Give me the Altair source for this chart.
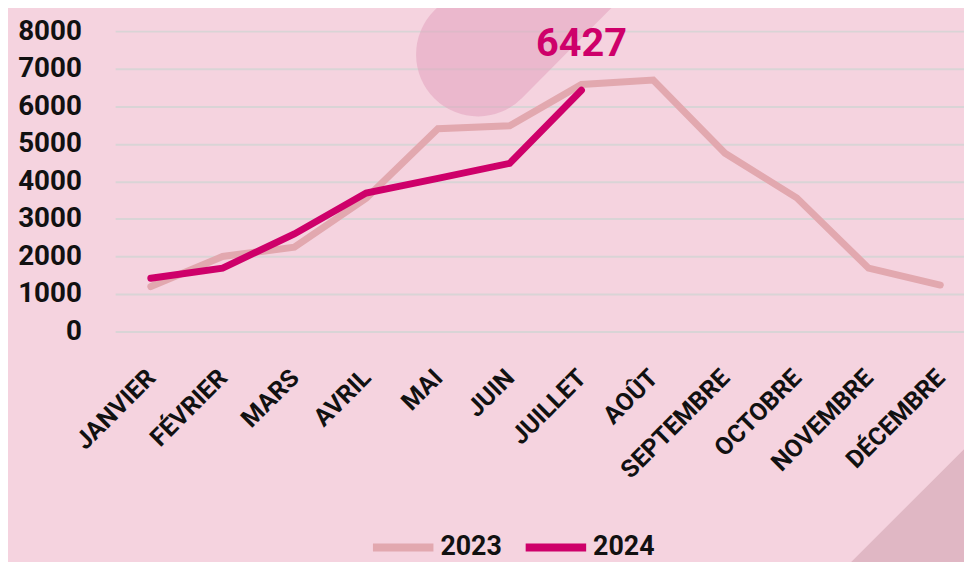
import altair as alt
import pandas as pd

months = ["JANVIER", "FÉVRIER", "MARS", "AVRIL", "MAI", "JUIN", "JUILLET",
          "AOÛT", "SEPTEMBRE", "OCTOBRE", "NOVEMBRE", "DÉCEMBRE"]
values_2023 = [1200, 2000, 2250, 3550, 5400, 5480, 6580, 6700, 4750, 3560, 1690, 1240]
values_2024 = [1420, 1690, 2600, 3690, 4080, 4480, 6427]
years = ["2023", "2024"]
y_ticks = [0, 1000, 2000, 3000, 4000, 5000, 6000, 7000, 8000]
highlight_label = "6427"

rows = []
for i, v in enumerate(values_2023):
    rows.append({"idx": i, "month": months[i], "year": "2023", "value": v})
for i, v in enumerate(values_2024):
    rows.append({"idx": i, "month": months[i], "year": "2024", "value": v})
df = pd.DataFrame(rows)

BG = "#F5D3DF"
C2023 = "#E2A8AF"
C2024 = "#CE006A"
FONT = "Roboto"

label_expr = "[" + ",".join("'" + m + "'" for m in months) + "][datum.value]"

x_enc = alt.X(
    "idx:Q",
    scale=alt.Scale(domain=[-0.4975, 11.33], nice=False, zero=False),
    axis=alt.Axis(
        values=list(range(12)), labelExpr=label_expr, labelAngle=-45,
        labelAlign="right", labelBaseline="middle", labelFont=FONT,
        labelFontSize=25, labelFontWeight="bold", labelColor="#111111",
        labelPadding=42, labelOverlap=False, labelFlush=False, labelBound=False,
        ticks=False, domain=False, grid=False, title=None,
    ),
)
y_enc = alt.Y(
    "value:Q",
    scale=alt.Scale(domain=[0, 8000], nice=False),
    axis=alt.Axis(
        values=y_ticks, format="d", labelFont=FONT, labelFontSize=28,
        labelFontWeight="bold", labelColor="#111111", labelPadding=34,
        labelOverlap=False, labelFlush=False, labelBound=False,
        ticks=False, domain=False,
        grid=True, gridColor="#D9D4D6", gridWidth=2, title=None,
    ),
)

one = pd.DataFrame({"k": [0]})

pill = alt.Chart(one).mark_rule(
    color="#E2A2BD", opacity=0.55, strokeWidth=125, strokeCap="round"
).encode(x=alt.value(366), y=alt.value(23.5), x2=alt.value(640), y2=alt.value(-253))

corner = alt.Chart(one).mark_rule(
    color="#E0B7C4", strokeWidth=200, strokeCap="butt"
).encode(x=alt.value(1084), y=alt.value(335), x2=alt.value(748), y2=alt.value(671))

lines = alt.Chart(df).mark_line(
    strokeWidth=7, strokeCap="round", strokeJoin="miter"
).encode(
    x=x_enc,
    y=y_enc,
    color=alt.Color(
        "year:N",
        scale=alt.Scale(domain=years, range=[C2023, C2024]),
        legend=alt.Legend(
            title=None, orient="none", legendX=256, legendY=486,
            direction="horizontal", symbolType="stroke", symbolSize=3721,
            symbolStrokeWidth=8, labelFont=FONT, labelFontSize=27,
            labelFontWeight="bold", labelColor="#111111", labelOffset=3,
            columnPadding=8,
        ),
    ),
    order=alt.Order("year:N"),
)

label = alt.Chart(df).transform_filter(
    (alt.datum.year == "2024") & (alt.datum.idx == len(values_2024) - 1)
).mark_text(
    font=FONT, fontSize=40, fontWeight="bold", color=C2024, dy=-46,
    baseline="middle", align="center",
).encode(x=x_enc, y=y_enc, text=alt.value(highlight_label))

chart = alt.layer(pill, corner, lines, label).properties(
    width=856, height=303,
    autosize=alt.AutoSizeParams(type="none"),
    padding={"left": 108, "top": 21, "right": 0, "bottom": 230},
    background=BG,
).configure_view(stroke=None)

chart.save("out.html", embed_options={"renderer": "svg", "actions": False})
